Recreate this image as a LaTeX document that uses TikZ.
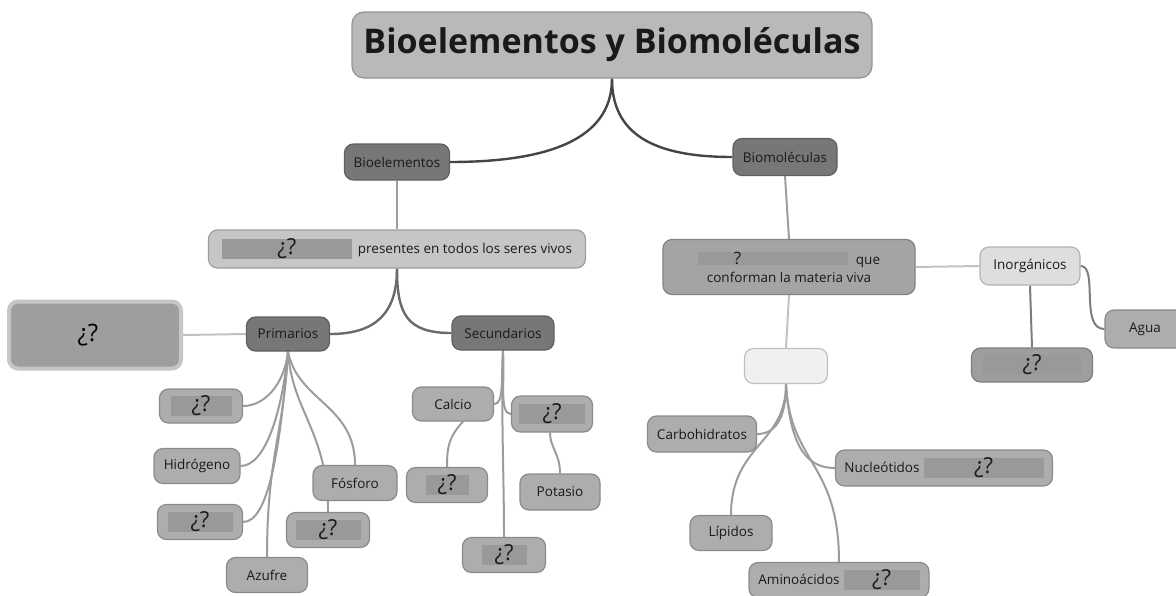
\documentclass[tikz,border=0pt]{standalone}
\usepackage{fontspec}
\setmainfont{Open Sans}
\usetikzlibrary{backgrounds}

\definecolor{fondotit}{HTML}{B9B9B9}
\definecolor{oscuro}{HTML}{777777}
\definecolor{medio}{HTML}{ADADAD}
\definecolor{mediooscuro}{HTML}{A4A4A4}
\definecolor{claro}{HTML}{C6C6C6}
\definecolor{muyclaro}{HTML}{DEDEDE}
\definecolor{blanco}{HTML}{F0F0F0}
\definecolor{oculto}{HTML}{999999}
\definecolor{ocultofondo}{HTML}{9E9E9E}
\definecolor{lineaosc}{HTML}{454545}
\definecolor{lineagris}{HTML}{9C9C9C}
\definecolor{lineaclara}{HTML}{C2C2C2}

% hidden answer: grey patch with the question marks
\newcommand{\hueco}[1]{{\setlength{\fboxsep}{0pt}\colorbox{oculto}{\makebox[#1pt]{\rule[-3pt]{0pt}{18pt}\raisebox{-1pt}{\fontsize{22}{22}\selectfont ¿?}}}}}

\tikzset{
  caja/.style={rounded corners=9pt, draw=#1!80!black, fill=#1, line width=1.2pt,
    inner sep=2pt, font=\fontsize{13.5}{15}\selectfont, text=black!90},
  caja/.default=medio,
  eje/.style={draw=lineaosc, line width=2.4pt},
  rama/.style={draw=lineagris, line width=2pt},
  ramaclara/.style={draw=lineaclara, line width=2pt}
}

\begin{document}
\begin{tikzpicture}[x=1pt, y=-1pt]
\useasboundingbox (0,0) rectangle (1176,595);

% title and first level
\node[caja=fondotit, rounded corners=12pt, minimum width=520pt, minimum height=66pt,
  font=\bfseries\fontsize{34}{38}\selectfont] (tit) at (612,45) {Bioelementos y Biomoléculas};
\node[caja=oscuro, minimum width=105pt, minimum height=36pt] (bioel) at (397,162) {Bioelementos};
\node[caja=oscuro, minimum width=104pt, minimum height=37pt] (biomol) at (785,157) {Biomoléculas};

% bioelementos branch
\node[caja=claro, minimum width=377pt, minimum height=38pt] (pres) at (397,249)
  {\hueco{130}\hspace{6pt}presentes en todos los seres vivos};
\node[caja=oscuro, minimum width=83pt, minimum height=34pt] (prim) at (288,334) {Primarios};
\node[caja=oscuro, minimum width=102pt, minimum height=34pt] (sec) at (503,333) {Secundarios};
\node[rounded corners=9pt, draw=claro, fill=ocultofondo, line width=4pt, minimum width=172pt,
  minimum height=67pt, font=\fontsize{24}{26}\selectfont] (grande) at (95,335) {\hspace{-14pt}¿?};

\node[caja, minimum width=83pt, minimum height=34pt] (p1) at (201,406) {\hueco{61}};
\node[caja, minimum width=86pt, minimum height=35pt] (hidro) at (197,466) {Hidrógeno};
\node[caja, minimum width=85pt, minimum height=35pt] (p3) at (200,522) {\hueco{65}};
\node[caja, minimum width=81pt, minimum height=35pt] (azufre) at (267,575) {Azufre};
\node[caja, minimum width=84pt, minimum height=35pt] (fosf) at (355,483) {Fósforo};
\node[caja, minimum width=83pt, minimum height=35pt] (p4) at (328,530) {\hueco{65}};

\node[caja, minimum width=81pt, minimum height=34pt] (calcio) at (453,404) {Calcio};
\node[caja, minimum width=81pt, minimum height=35pt] (s4) at (447,485) {\hueco{43}};
\node[caja, minimum width=81pt, minimum height=36pt] (s2) at (552,414) {\hueco{66}};
\node[caja, minimum width=80pt, minimum height=36pt] (potasio) at (560,492) {Potasio};
\node[caja, minimum width=83pt, minimum height=35pt] (s3) at (504,555) {\hueco{45}};

% biomoleculas branch
\node[caja=mediooscuro, minimum width=252pt, minimum height=55pt, align=center] (conf) at (789,267)
  {{\setlength{\fboxsep}{0pt}\colorbox{oculto}{\makebox[150pt][l]{\rule[-1pt]{0pt}{11pt}\hspace{36pt}\fontsize{17}{17}\selectfont ?}}}\hspace{8pt}que\\[3pt]
   conforman la materia viva};
\node[caja=muyclaro, minimum width=100pt, minimum height=38pt] (inorg) at (1030,266) {Inorgánicos};
\node[caja, minimum width=80pt, minimum height=38pt] (agua) at (1145,329) {Agua};
\node[caja=ocultofondo, minimum width=121pt, minimum height=34pt] (i2) at (1032,365) {\hueco{98}};
\node[caja=blanco, minimum width=83pt, minimum height=35pt] (vacio) at (786,366) {};

\node[caja, minimum width=109pt, minimum height=36pt] (carbo) at (702,434) {Carbohidratos};
\node[caja, minimum width=82pt, minimum height=35pt] (lip) at (731,533) {Lípidos};
\node[caja, minimum width=217pt, minimum height=36pt] (nuc) at (944,468) {Nucleótidos\hspace{4pt}\hueco{120}};
\node[caja, minimum width=180pt, minimum height=35pt] (amino) at (839,580) {Aminoácidos\hspace{4pt}\hueco{76}};

% connectors
\begin{scope}[on background layer]
\draw[eje] (tit.south) .. controls +(0,55) and +(110,0) .. (bioel.east);
\draw[eje] (tit.south) .. controls +(0,55) and +(-80,0) .. (biomol.west);
\draw[rama] (bioel.south) -- (pres.north);
\draw[eje, draw=lineaosc!80] (pres.south) .. controls +(0,45) and +(45,0) .. (prim.east);
\draw[eje, draw=lineaosc!80] (pres.south) .. controls +(0,45) and +(-45,0) .. (sec.west);
\draw[ramaclara] (grande.east) -- (prim.west);

\draw[rama] (prim.south) .. controls +(-4,35) and +(20,0) .. (p1.east);
\draw[rama] (prim.south) .. controls +(-6,60) and +(25,0) .. (hidro.east);
\draw[rama] (prim.south) .. controls +(-8,100) and +(25,0) .. (p3.east);
\draw[rama] (prim.south) .. controls +(-4,80) and +(0,-100) .. (azufre.north);
\draw[rama] (prim.south) .. controls +(10,50) and +(0,-60) .. (fosf.north);
\draw[rama] (prim.south) .. controls +(4,60) and +(0,-80) .. (p4.north);

\draw[rama] (sec.south) .. controls +(-2,30) and +(10,0) .. (calcio.east);
\draw[rama] (sec.south) .. controls +(2,30) and +(-12,0) .. (s2.west);
\draw[rama] (sec.south) .. controls +(-2,60) and +(0,-60) .. (s3.north);
\draw[rama] ([xshift=10pt]calcio.south) .. controls +(-14,15) and +(0,-20) .. (s4.north);
\draw[rama] ([xshift=-2pt]s2.south) .. controls +(0,15) and +(0,-20) .. (potasio.north);

\draw[rama] (biomol.south) -- (conf.north);
\draw[ramaclara] (conf.east) -- (inorg.west);
\draw[rama, draw=lineagris!80!black] (inorg.east) .. controls +(18,0) and +(-25,0) .. (agua.west);
\draw[rama, draw=lineagris!80!black] (inorg.south) -- (i2.north);
\draw[ramaclara] (conf.south) -- (vacio.north);

\draw[rama] (vacio.south) .. controls +(0,35) and +(18,0) .. (carbo.east);
\draw[rama] (vacio.south) .. controls +(0,60) and +(0,-70) .. (lip.north);
\draw[rama] (vacio.south) .. controls +(4,60) and +(-30,0) .. (nuc.west);
\draw[rama] (vacio.south) .. controls +(4,80) and +(0,-100) .. (amino.north);
\end{scope}

\end{tikzpicture}
\end{document}
